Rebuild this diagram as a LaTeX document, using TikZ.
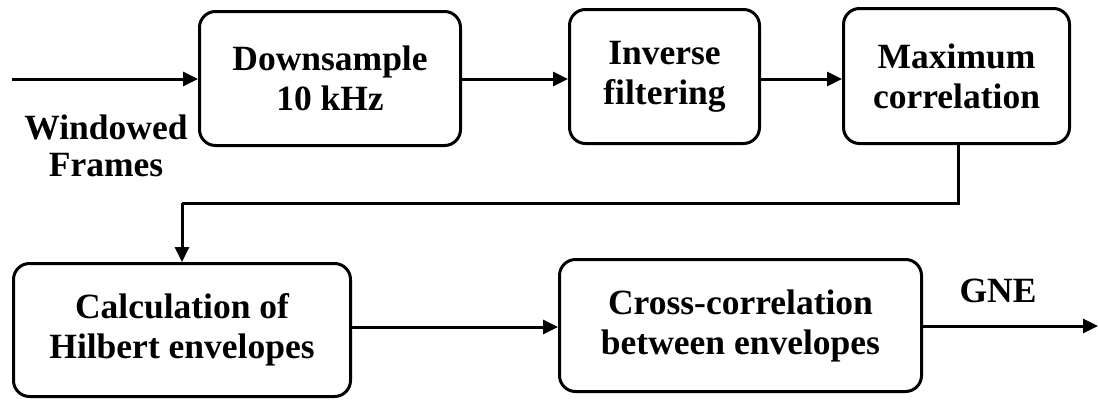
\documentclass[tikz,border=0pt]{standalone}
\usepackage{fontspec}
\setmainfont{Liberation Serif}
\usetikzlibrary{arrows.meta}
\begin{document}
\begin{tikzpicture}[x=1pt,y=-1pt,
  block/.style={draw,line width=3pt,rounded corners=16pt,inner sep=0pt,
    align=center,font=\fontsize{35.5}{40}\selectfont\bfseries},
  lbl/.style={inner sep=0pt,align=center,font=\fontsize{35.5}{37}\selectfont\bfseries},
  flow/.style={line width=3pt,-{Triangle[length=15pt,width=14pt]}},
  wire/.style={line width=3pt}]
\useasboundingbox (0,0) rectangle (1099,399);
% top row
\node[block,minimum width=261pt,minimum height=134pt] (down) at (330,78.5) {Downsample\\10 kHz};
\node[block,minimum width=190pt,minimum height=134pt] (inv) at (664.5,76.5) {Inverse\\filtering};
\node[block,minimum width=226pt,minimum height=135pt] (max) at (956.5,76) {Maximum\\correlation};
% bottom row
\node[block,minimum width=337pt,minimum height=133pt] (hil) at (182,330) {Calculation of\\Hilbert envelopes};
\node[block,minimum width=362pt,minimum height=132pt] (cross) at (740.5,325.5) {Cross-correlation\\between envelopes};
% input and output labels
\node[lbl] (win) at (106,146) {Windowed\\Frames};
\node[lbl] (gne) at (998,291) {GNE};
\coordinate (in) at (12,79);
\coordinate (out) at (1098,326);
\coordinate (turnR) at (958,203);
\coordinate (turnL) at (182,203);
% connectors
\draw[flow] (in) -- (in -| down.west);
\draw[flow] (down.east |- 0,79) -- (inv.west |- 0,79);
\draw[flow] (inv.east |- 0,79) -- (max.west |- 0,79);
\draw[wire] (max.south -| turnR) -- (turnR) -- (turnL);
\draw[flow] (turnL) -- (hil.north);
\draw[flow] (hil.east |- 0,327) -- (cross.west |- 0,327);
\draw[flow] (cross.east |- out) -- (out);
\end{tikzpicture}
\end{document}
